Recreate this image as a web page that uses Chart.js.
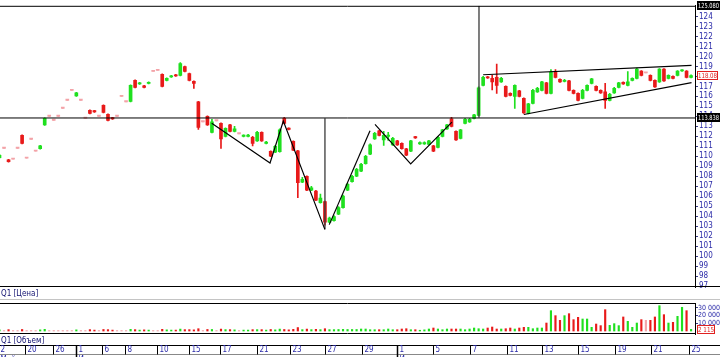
<!DOCTYPE html>
<html><head><meta charset="utf-8">
<script src="https://cdn.jsdelivr.net/npm/chart.js@4.4.0/dist/chart.umd.min.js"></script>
<style>
html,body{margin:0;padding:0;background:#fff;width:720px;height:357px;overflow:hidden;}
canvas{position:absolute;left:0;}
#p{top:0;}
#v{top:288px;}
</style></head><body>
<canvas id="p" width="720" height="300"></canvas>
<canvas id="v" width="720" height="69"></canvas>
<script>
// ---------- DATA ----------
const open = [109.85,110.8,109.65,109.7,110.8,112.1,109.8,111.7,110.5,110.75,
113.15,114.0,113.6,114.0,114.8,115.6,116.6,116.05,115.6,113.8,
114.6,114.55,114.0,115.1,114.2,113.85,114.0,116.0,115.45,115.5,
117.6,117.25,117.05,117.3,118.5,118.6,118.2,117.6,117.95,118.15,
118.1,119.0,118.3,117.5,115.45,113.45,114.0,112.4,113.55,113.3,
112.0,113.15,112.5,112.25,112.0,112.0,111.9,111.55,112.4,111.3,
110.5,110.4,110.45,113.8,112.8,111.5,110.55,107.4,108.0,106.6,
106.5,105.35,105.45,103.4,103.55,104.2,104.85,106.6,107.45,108.0,
108.5,109.25,110.2,111.75,112.55,111.65,112.0,111.15,111.55,111.3,
110.75,110.5,111.95,111.25,111.25,111.2,111.05,110.9,112.0,112.75,
113.75,112.5,111.8,113.3,113.45,113.8,114.1,117.1,117.95,117.8,
117.9,117.45,117.0,116.3,116.0,116.55,115.8,114.3,115.3,116.45,
116.6,117.35,116.3,118.45,117.7,117.5,117.55,116.6,116.3,115.8,
116.6,117.3,117.0,116.6,116.45,115.6,116.35,116.9,117.4,117.1,
117.6,117.8,118.55,118.35,118.1,117.6,117.45,118.75,117.8,118.0,
118.1,118.55,118.55,117.9];
const close = [110.1,110.8,109.45,109.7,110.8,111.3,109.8,111.7,110.5,111.05,
113.8,114.0,113.6,114.0,114.8,115.6,116.6,116.35,115.6,113.8,
114.3,114.45,114.0,114.4,113.6,113.75,114.0,116.0,115.45,117.1,
116.9,117.35,116.9,117.4,118.5,118.6,117.0,117.8,118.05,118.05,
119.3,118.5,117.6,117.3,112.9,113.45,113.15,113.45,113.55,111.75,
112.8,112.5,112.75,112.25,112.1,112.1,111.3,112.4,111.55,111.4,
110.0,111.0,112.65,113.3,112.7,110.6,107.35,107.7,106.6,106.85,
105.6,105.8,103.4,103.8,103.95,104.85,106.0,107.2,108.0,108.7,
109.2,110.0,111.15,112.3,112.1,112.1,112.1,111.8,111.15,110.75,
110.1,111.55,111.85,111.35,111.35,111.55,110.5,111.9,112.65,113.15,
113.0,111.65,112.65,113.7,113.7,114.15,116.85,117.9,117.85,117.45,
117.1,117.8,116.0,116.1,117.1,116.0,114.35,115.25,116.6,116.8,
117.45,116.3,118.45,117.9,117.45,117.6,116.6,116.3,115.6,116.6,
117.1,117.75,116.6,116.35,115.6,116.2,116.8,117.35,117.25,117.45,
117.8,118.75,118.1,118.35,117.6,116.95,118.75,117.55,118.1,117.8,
118.55,118.65,117.9,118.08];
const high = [110.2,110.8,109.7,109.7,110.8,112.15,109.8,111.7,110.5,111.1,
113.85,114.0,113.6,114.0,114.8,115.6,116.6,116.4,115.6,113.8,
114.65,114.6,114.0,115.15,114.25,113.9,114.0,116.0,115.45,117.15,
117.65,117.4,117.1,117.45,118.5,118.6,118.25,117.85,118.1,118.2,
119.4,119.05,118.35,117.55,115.5,113.45,114.05,113.7,113.55,113.35,
112.85,113.2,113.0,112.25,112.15,112.2,112.0,112.5,112.45,111.5,
110.55,111.1,112.75,113.9,112.85,111.55,110.6,107.9,108.05,107.0,
106.6,106.2,105.5,103.9,104.05,104.95,106.1,107.3,108.1,108.8,
109.3,110.1,111.25,112.4,112.6,112.5,112.4,111.9,111.6,111.35,
110.8,111.6,112.0,111.45,111.45,111.6,111.1,112.0,112.7,113.2,
113.9,112.55,112.7,113.8,113.8,114.2,116.95,118.0,118.0,118.1,
119.25,117.9,117.05,116.35,117.15,116.6,115.85,115.3,116.7,116.9,
117.5,117.4,118.7,118.7,117.75,117.7,117.6,116.65,116.35,116.7,
117.15,117.8,117.05,116.65,117.3,116.3,116.9,117.4,117.45,118.5,
117.85,118.85,118.6,118.35,118.15,117.65,118.8,118.8,118.15,118.05,
118.6,118.7,118.6,118.15];
const low = [109.8,110.8,109.4,109.7,110.8,111.25,109.8,111.7,110.5,110.7,
113.1,114.0,113.6,114.0,114.8,115.6,116.6,116.0,115.6,113.8,
114.25,114.4,114.0,114.35,113.55,113.7,114.0,116.0,115.45,115.45,
116.85,117.2,116.85,117.25,118.5,118.6,116.95,117.55,117.9,118.0,
118.05,118.45,117.55,116.8,112.7,113.45,113.1,112.35,113.55,110.8,
111.95,112.45,112.45,112.25,111.95,111.95,111.05,111.5,111.5,111.25,
109.95,110.35,110.4,113.25,112.65,110.55,105.85,107.35,106.55,106.55,
105.55,105.3,103.1,103.35,103.5,104.15,104.8,106.55,107.4,107.95,
108.45,109.2,110.15,111.7,112.05,111.1,111.6,111.1,111.1,110.7,
110.05,110.45,111.8,111.2,111.2,111.15,110.45,110.85,111.95,112.7,
112.95,111.6,111.75,113.25,113.4,113.75,114.05,117.05,117.8,116.65,
116.3,117.4,115.95,116.05,114.8,115.95,114.3,114.25,115.25,116.4,
116.55,116.25,116.25,117.85,117.4,117.45,116.55,116.25,115.55,115.75,
116.55,117.25,116.55,116.3,114.8,115.55,116.3,116.85,117.2,117.05,
117.55,117.75,118.05,118.35,117.55,116.9,117.4,117.5,117.75,117.75,
118.05,118.5,117.85,117.85];
const volume = [1500,600,1800,600,600,2000,600,600,600,1500,
2200,600,600,600,600,600,600,1500,600,600,
1800,1200,600,2000,1800,1200,600,600,600,2200,
1800,1200,1500,1200,600,600,2200,1500,1200,1200,
2500,1800,1800,1500,3000,600,2000,2000,600,2500,
1800,1800,1500,600,1200,1200,1800,1800,1800,1200,
2000,1500,2500,2000,1500,2200,4500,1800,2500,1800,
2200,1800,3000,1800,1800,2000,2200,2000,2000,2000,
2600,2600,1700,1700,1700,1700,2600,1700,1700,2600,
3000,1700,1700,1000,1500,2600,3900,2600,1700,2600,
2600,2600,2600,1700,2600,3900,3000,2600,3900,5200,
2600,2600,3000,3900,2600,3900,4800,4800,3000,3900,
3900,10400,26500,20000,13900,20000,22600,14800,17800,15650,
15650,4800,9100,7000,27800,7400,9600,7000,18300,12600,
4800,10400,14800,13900,13900,18300,33000,21300,10400,11300,
19100,30900,26500,2115];

const priceTicks = [97,98,99,100,101,102,103,104,105,106,107,108,109,110,111,112,113,114,115,116,117,118,119,120,121,122,123,124];
const volumeTicks = [10000,20000,30000];
const volumeTickLabels = ['10 000','20 000','30 000'];
const dateTickIndex = [-0.33,5.64,11.84,16.92,22.68,27.77,34.85,41.92,48.78,56.97,64.27,72.01,80.2,87.94,95.91,104.09,112.28,120.02,127.99,136.17,144.14,152.54];
const dateTickLabels = ['2','20','26','1','6','8','10','15','17','21','23','27','29','1','5','7','11','13','15','19','21','25'];
const monthTickIndex = [-0.33,16.92,87.94];
const monthLabels = ['Май','Июн','Июл'];
const panelCaptions = ['Q1 [Цена]','Q1 [Объем]'];

const levelPrice = 113.838;
const topPrice = 125.08;
const lastPrice = 118.08;
const lastVolume = 2115;

// drawn lines: [index, price] points
const trendLines = [
  [[46.95,113.30],[59.85,109.33],[62.79,113.54],[72.0,102.65]],
  [[72.96,103.15],[81.97,112.55]],
  [[83.07,113.2],[90.97,109.23],[100.1,113.42]],
  [[107.0,118.17],[153.1,119.1]],
  [[116.0,114.19],[153.1,117.38]]
];
const verticalLines = [[72.0,113.838,102.7],[106.08,113.838,125.08]];

// ---------- STYLE ----------
const GREEN = '#1fe01f', RED = '#e81a1a', PINK = '#f3a3a8';
const AXIS_BLUE = '#2a2aa8', NAVY = '#101070';
const FONT = '"Liberation Sans Narrow","DejaVu Sans Condensed","Liberation Sans",Arial,sans-serif';
const X_MIN = 0.11, X_MAX = 153.87;

const idx = open.map((_, i) => i);
const candleColor = idx.map(i => close[i] > open[i] ? GREEN : (close[i] < open[i] ? RED : PINK));

function hline(ctx, x0, x1, y, color) {
  ctx.strokeStyle = color; ctx.lineWidth = 1;
  ctx.beginPath(); ctx.moveTo(x0, y); ctx.lineTo(x1, y); ctx.stroke();
}
function vline(ctx, x, y0, y1, color, w) {
  ctx.strokeStyle = color; ctx.lineWidth = w || 1;
  ctx.beginPath(); ctx.moveTo(x, y0); ctx.lineTo(x, y1); ctx.stroke();
}
function valueBox(ctx, text, x, yc, w, fill, stroke, color) {
  const h = 9;
  const top = Math.round(yc - h / 2);
  ctx.fillStyle = fill; ctx.fillRect(x, top, w, h);
  if (stroke) { ctx.strokeStyle = stroke; ctx.lineWidth = 1; ctx.strokeRect(x + 0.5, top + 0.5, w - 1, h - 1); }
  ctx.fillStyle = color; ctx.font = '7px ' + FONT; ctx.textAlign = 'left'; ctx.textBaseline = 'middle';
  ctx.fillText(text, x + 1, top + h / 2 + 0.5, w - 2);
}

const priceDecor = {
  id: 'priceDecor',
  afterDraw(chart) {
    const {ctx, chartArea: a, scales: {y}} = chart;
    ctx.save();
    hline(ctx, 0, a.right, a.top + 0.5, '#000');
    hline(ctx, 0, chart.width, a.bottom - 0.5, '#000');
    valueBox(ctx, '125.080', a.right + 2, y.getPixelForValue(topPrice), 23, '#000', null, '#fff');
    valueBox(ctx, lastPrice.toFixed(2), a.right + 2, y.getPixelForValue(lastPrice), 21, '#fff', '#e02020', '#e02020');
    valueBox(ctx, levelPrice.toFixed(3), a.right + 2, y.getPixelForValue(levelPrice), 23, '#000', null, '#fff');
    ctx.restore();
  }
};

const volDecor = {
  id: 'volDecor',
  afterDraw(chart) {
    const {ctx, chartArea: a, scales: {x, y}} = chart;
    const W = chart.width;
    ctx.save();
    ctx.font = '8px ' + FONT; ctx.fillStyle = NAVY; ctx.textAlign = 'left'; ctx.textBaseline = 'middle';
    ctx.fillText(panelCaptions[0], 1, a.top - 9);
    hline(ctx, 0, W, a.top - 3.5, '#c4c4c4');
    hline(ctx, 0, a.right, a.top + 0.5, '#000');
    hline(ctx, 0, a.right, a.bottom - 0.5, '#000');
    ctx.fillStyle = NAVY;
    ctx.fillText(panelCaptions[1], 1, a.bottom + 7);
    // date axis
    const axTop = a.bottom + 11.5;
    hline(ctx, 0, W, axTop, '#000');
    hline(ctx, 0, W, axTop + 9, '#888');
    dateTickIndex.forEach((v, k) => {
      const px = Math.round(x.getPixelForValue(v)) + 0.5;
      vline(ctx, px, axTop, axTop + 9, '#000', 1);
      ctx.fillStyle = AXIS_BLUE;
      ctx.fillText(dateTickLabels[k], px + 2, axTop + 4.5);
    });
    monthTickIndex.forEach((v, k) => {
      const px = Math.round(x.getPixelForValue(v)) + 0.5;
      vline(ctx, px, axTop, chart.height, '#000', 1.5);
      ctx.fillStyle = AXIS_BLUE; ctx.textBaseline = 'top';
      ctx.fillText(monthLabels[k], px + 2, axTop + 10);
      ctx.textBaseline = 'middle';
    });
    valueBox(ctx, '2 115', a.right + 2, y.getPixelForValue(lastVolume), 18, '#fff', '#e02020', '#e02020');
    ctx.restore();
  }
};

const baseX = {type: 'linear', display: false, min: X_MIN, max: X_MAX, offset: false, grid: {offset: false}};
function rightAxis(extra) {
  return Object.assign({
    position: 'right',
    afterFit(s) { s.width = 25; },
    grid: {drawOnChartArea: false, drawTicks: true, tickLength: 3, color: '#3a3a8a'},
    border: {display: true, color: '#000'}
  }, extra);
}

// ---------- PRICE CHART ----------
const datasets = [
  {type: 'bar', data: idx.map(i => ({x: i, y: [low[i], high[i]]})), backgroundColor: candleColor,
   barThickness: 1, grouped: false, order: 3},
  {type: 'bar', data: idx.map(i => ({x: i, y: [open[i], close[i]]})), backgroundColor: candleColor,
   barThickness: 3, minBarLength: 1.2, grouped: false, order: 2},
  {type: 'line', data: [{x: X_MIN, y: levelPrice}, {x: X_MAX, y: levelPrice}], borderColor: '#000',
   borderWidth: 1, pointRadius: 0, order: 1}
];
trendLines.forEach(pts => datasets.push({type: 'line', data: pts.map(p => ({x: p[0], y: p[1]})),
  borderColor: '#000', borderWidth: 1.2, pointRadius: 0, tension: 0, order: 0}));
verticalLines.forEach(v => datasets.push({type: 'line', data: [{x: v[0], y: v[1]}, {x: v[0], y: v[2]}],
  borderColor: '#3a3a3a', borderWidth: 1.3, pointRadius: 0, order: 0}));

new Chart(document.getElementById('p'), {
  type: 'bar',
  data: {datasets},
  options: {
    responsive: false, animation: false, devicePixelRatio: 1,
    layout: {padding: {top: 3, bottom: 13, left: 0, right: 0}},
    plugins: {legend: {display: false}, tooltip: {enabled: false}},
    scales: {
      x: baseX,
      y: rightAxis({min: 96.9, max: topPrice,
        afterBuildTicks(s) { s.ticks = priceTicks.map(v => ({value: v})); },
        ticks: {color: AXIS_BLUE, font: {size: 8, family: FONT}, padding: 1, autoSkip: false,
          callback: v => String(v)}})
    }
  },
  plugins: [priceDecor]
});

// ---------- VOLUME CHART ----------
new Chart(document.getElementById('v'), {
  type: 'bar',
  data: {datasets: [{data: idx.map(i => ({x: i, y: volume[i]})), backgroundColor: candleColor,
    barThickness: 1.5, grouped: false}]},
  options: {
    responsive: false, animation: false, devicePixelRatio: 1,
    layout: {padding: {top: 15, bottom: 23, left: 0, right: 0}},
    plugins: {legend: {display: false}, tooltip: {enabled: false}},
    scales: {
      x: baseX,
      y: rightAxis({min: -3900, max: 36500,
        afterBuildTicks(s) { s.ticks = volumeTicks.map(v => ({value: v})); },
        ticks: {color: AXIS_BLUE, font: {size: 7, family: FONT}, padding: 0, autoSkip: false,
          callback: (v) => volumeTickLabels[volumeTicks.indexOf(v)]}})
    }
  },
  plugins: [volDecor]
});
</script>
</body></html>
